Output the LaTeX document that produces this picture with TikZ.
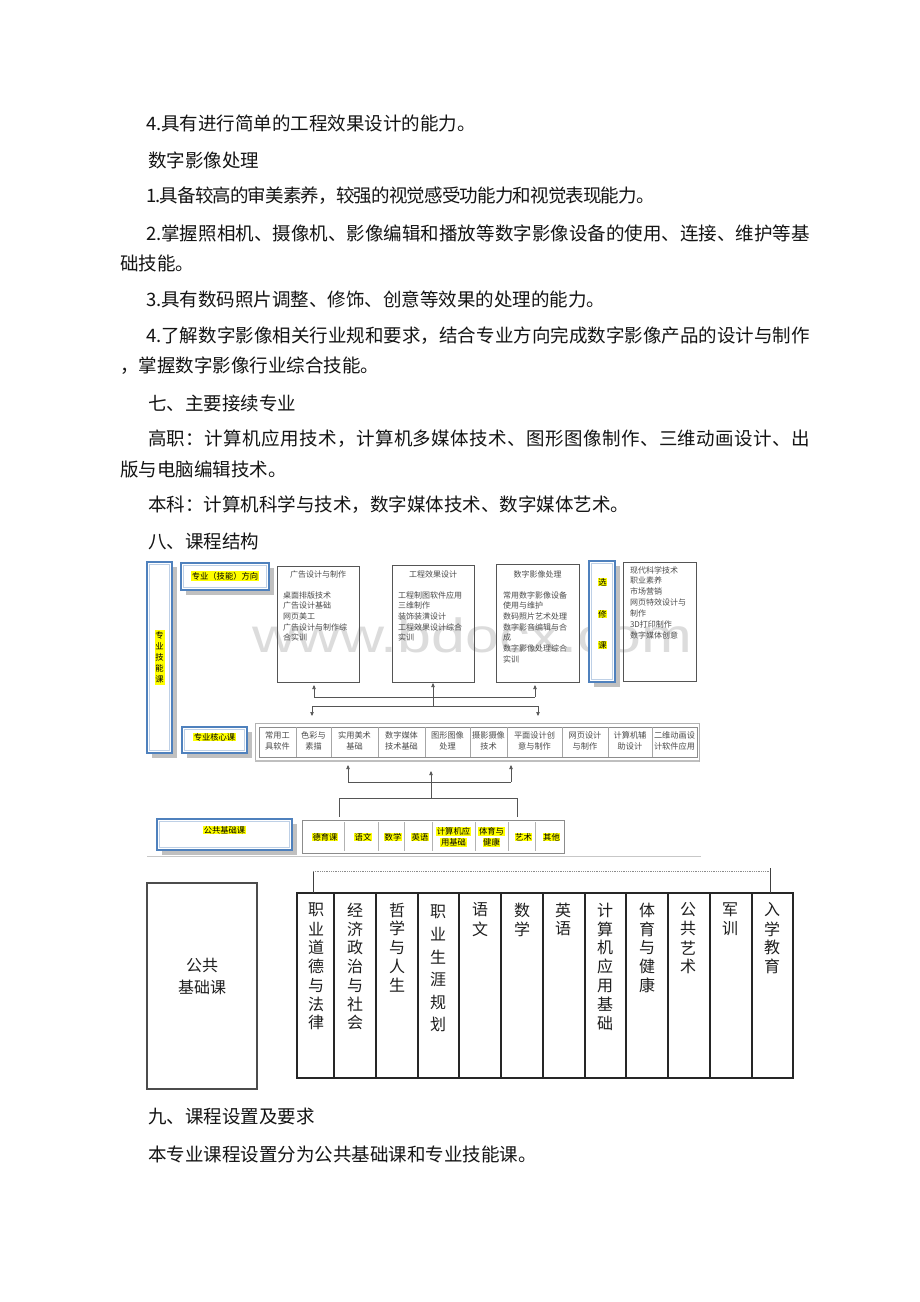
\documentclass[tikz,border=0pt]{standalone}
\usepackage{fontspec}
\usepackage{graphicx}
\setmainfont{Noto Sans CJK SC}
\newfontfamily\wmfont{Liberation Sans}
\usetikzlibrary{arrows.meta}
\definecolor{bluebox}{RGB}{79,129,189}
\definecolor{bluein}{RGB}{190,208,230}
\definecolor{shadowgray}{RGB}{192,192,192}
\definecolor{linegray}{RGB}{85,85,85}
\definecolor{txtgray}{RGB}{75,75,75}
\definecolor{wmgray}{RGB}{220,220,220}
\definecolor{hlyellow}{RGB}{255,255,0}
\newcommand{\fsz}[2]{\fontsize{#1}{#2}\selectfont}
\def\spreadit#1{#1\spreadnext}
\def\spreadnext#1{\ifx#1\relax\else\hfill#1\expandafter\spreadnext\fi}
\def\tightit#1{#1\tightnext}
\def\tightnext#1{\ifx#1\relax\else\kern-0.85pt#1\expandafter\tightnext\fi}
\newcommand{\bbox}[5]{%
  \fill[shadowgray] ({#2+5},{#3+5}) rectangle ({#4+5},{#5+5});
  \node[anchor=north west, fill=white, draw=bluebox, line width=2, minimum width={#4-#2}, minimum height={#5-#3}] (#1) at (#2,#3) {};
  \draw[bluein, line width=0.9] ({#2+2.2},{#3+2.2}) rectangle ({#4-2.2},{#5-2.2});
}
\newcommand{\rectnode}[6]{%
  \node[anchor=north west, #6, minimum width={#4-#2}, minimum height={#5-#3}] (#1) at (#2,#3) {};
}
\newcommand{\vcol}[5]{%
  \foreach \c [count=\i] in {#5} {\node[lowtxt] (#1-\i) at (#2,{#3+(\i-1)*#4}) {\c};}
}
\tikzset{
  body/.style={anchor=west, font=\fsz{18.5}{22}, text=black!92},
  dtext/.style={font=\fsz{8}{10}, text=txtgray},
  grayrect/.style={draw=linegray, line width=0.8},
  conn/.style={draw=linegray, line width=0.7},
  arr/.style={conn, -{Triangle[length=4pt,width=3.4pt]}},
  hlt/.style={fill=hlyellow, font=\fsz{8.3}{10}, text=black, inner sep=0.6pt},
  coretext/.style={font=\fsz{8.2}{11.5}, text=txtgray, align=center},
  lowtxt/.style={font=\fsz{16}{18}, text=black!88},
}
\begin{document}
\begin{tikzpicture}[x=1pt,y=-1pt, every node/.style={inner sep=0pt, outer sep=0pt}]
\useasboundingbox[fill=white] (0,0) rectangle (920,1302);

% ---------- body text ----------
\node[body] (t1) at (146,123) {4.具有进行简单的工程效果设计的能力。};
\node[body] (t2) at (148,160) {数字影像处理};
\node[body] (t3) at (146,196) {\tightit 1.具备较高的审美素养，较强的视觉感受功能力和视觉表现能力。\relax};
\node[body] (t4) at (146,233) {\makebox[664pt][s]{\spreadit 2.掌握照相机、摄像机、影像编辑和播放等数字影像设备的使用、连接、维护等基\relax}};
\node[body] (t5) at (120,263) {础技能。};
\node[body] (t6) at (146,299) {3.具有数码照片调整、修饰、创意等效果的处理的能力。};
\node[body] (t7) at (146,336) {\makebox[664pt][s]{\spreadit 4.了解数字影像相关行业规和要求，结合专业方向完成数字影像产品的设计与制作\relax}};
\node[body] (t8) at (120,366) {，掌握数字影像行业综合技能。};
\node[body] (t9) at (148,403) {七、主要接续专业};
\node[body] (t10) at (148,439) {\makebox[662pt][s]{\spreadit 高职：计算机应用技术，计算机多媒体技术、图形图像制作、三维动画设计、出\relax}};
\node[body] (t11) at (120,469) {版与电脑编辑技术。};
\node[body] (t12) at (148,505) {本科：计算机科学与技术，数字媒体技术、数字媒体艺术。};
\node[body] (t13) at (148,541) {八、课程结构};
\node[body] (t14) at (148,1117) {九、课程设置及要求};
\node[body] (t15) at (148,1154) {本专业课程设置分为公共基础课和专业技能课。};

% ---------- watermark ----------
\node[anchor=base west, text=wmgray, font=\wmfont\fsz{48}{48}] (wm) at (252,652) {\scalebox{1.27}[1]{www.bdocx.com}};

% ---------- blue boxes ----------
\bbox{skill}{147}{562}{172}{753}
\bbox{dir}{181}{563}{269}{590}
\bbox{elect}{589}{561}{615}{682}
\bbox{corelab}{182}{727}{247}{753}
\bbox{publab}{157}{819}{292}{850}

\foreach \c [count=\i] in {专,业,技,能,课}
  \node[hlt, minimum width=10, minimum height=11, inner sep=0pt] (sk\i) at (159.5,{635+(\i-1)*11}) {\c};
\node[hlt] (dirt) at (225,576) {专业（技能）方向};
\foreach \c/\yy [count=\i] in {选/582,修/614,课/645}
  \node[hlt] (el\i) at (602.5,\yy) {\c};
\node[hlt] (coret) at (214.5,737) {专业核心课};
\node[hlt] (pubt) at (224.5,830) {公共基础课};

% ---------- direction boxes ----------
\rectnode{d1}{277}{566}{359}{682}{grayrect}
\rectnode{d2}{392}{565}{474}{682}{grayrect}
\rectnode{d3}{496}{564}{579}{682}{grayrect}
\rectnode{d4}{623}{562}{696}{681}{grayrect}

\node[dtext] (d1t) at (318,574) {广告设计与制作};
\foreach \t [count=\i] in {桌面排版技术,广告设计基础,网页美工,广告设计与制作综,合实训}
  \node[dtext, anchor=west] (d1i\i) at (283,{595+(\i-1)*10.7}) {\t};
\node[dtext] (d2t) at (433,574) {工程效果设计};
\foreach \t [count=\i] in {工程制图软件应用,三维制作,装饰装潢设计,工程效果设计综合,实训}
  \node[dtext, anchor=west] (d2i\i) at (398,{595+(\i-1)*10.7}) {\t};
\node[dtext] (d3t) at (537.5,574) {数字影像处理};
\foreach \t [count=\i] in {常用数字影像设备,使用与维护,数码照片艺术处理,数字影音编辑与合,成,数字影像处理综合,实训}
  \node[dtext, anchor=west] (d3i\i) at (503,{595+(\i-1)*10.7}) {\t};
\foreach \t [count=\i] in {现代科学技术,职业素养,市场营销,网页特效设计与,制作,3D打印制作,数字媒体创意}
  \node[dtext, anchor=west] (d4i\i) at (630,{570+(\i-1)*10.85}) {\t};

% ---------- core table ----------
\rectnode{coreo}{255}{723}{699}{761}{draw=black!30, line width=0.9}
\draw[black!25, line width=2] (coreo.south west) -- (coreo.south east);
\rectnode{core}{259}{727}{697}{757}{draw=black!45, line width=0.6}
\foreach \x in {296,331,378,425,470,507,562,608,652}
  \draw[black!35, line width=0.6] (\x,727) -- (\x,757);
\foreach \xa/\xb/\ta/\tb [count=\i] in {259/296/常用工/具软件, 296/331/色彩与/素描, 331/378/实用美术/基础, 378/425/数字媒体/技术基础, 425/470/图形图像/处理, 470/507/摄影摄像/技术, 507/562/平面设计创/意与制作, 562/608/网页设计/与制作, 608/652/计算机辅/助设计, 652/697/二维动画设/计软件应用}
  \node[coretext] (cc\i) at ({(\xa+\xb)/2},741) {\ta\\\tb};

% ---------- public table ----------
\rectnode{pub}{302}{820}{564}{853}{draw=black!45, line width=0.8}
\foreach \x in {344,378,404,432,475,508,535}
  \draw[black!30, line width=0.6] (\x,822) -- (\x,851);
\foreach \xa/\xb/\t [count=\i] in {302/344/德育课, 344/378/语文, 378/404/数学, 404/432/英语, 508/535/艺术, 535/564/其他}
  \node[hlt] (pc\i) at ({(\xa+\xb)/2+2},837) {\t};
\node[hlt] (pc7a) at (453.5,831.7) {计算机应};
\node[hlt] (pc7b) at (453.5,842.7) {用基础};
\node[hlt] (pc8a) at (491.5,831.7) {体育与};
\node[hlt] (pc8b) at (491.5,842.7) {健康};

% ---------- connectors upper ----------
\coordinate (ua) at (314,697);
\coordinate (ub) at (535,697);
\coordinate (la) at (312,706);
\coordinate (lb) at (538,706);
\coordinate (lm) at (433,706);
\draw[conn] (ua) -- (ub);
\draw[arr] (ua) -- ([yshift=-3pt]d1.south -| ua);
\draw[arr] (ub) -- ([yshift=-3pt]d3.south -| ub);
\draw[conn] (la) -- (lb);
\draw[arr] (lm) -- ([yshift=-1pt]d2.south -| lm);
\draw[arr] (la) -- ([yshift=7pt]coreo.north -| la);
\draw[arr] (lb) -- ([yshift=7pt]coreo.north -| lb);

% ---------- connectors lower ----------
\coordinate (ma) at (348,782);
\coordinate (mb) at (511,782);
\coordinate (mm) at (431,798);
\coordinate (na) at (339,798);
\coordinate (nb) at (517,798);
\draw[conn] (ma) -- (mb);
\draw[arr] (ma) -- ([yshift=-4pt]coreo.south -| ma);
\draw[arr] (mb) -- ([yshift=-4pt]coreo.south -| mb);
\draw[arr] (mm) -- ([yshift=-10pt]coreo.south -| mm);
\draw[conn] (na) -- (nb);
\draw[conn] (na) -- ([yshift=3pt]pub.north -| na);
\draw[conn] (nb) -- ([yshift=3pt]pub.north -| nb);

% separator
\coordinate (sepa) at (147,856);
\coordinate (sepb) at (701,856);
\draw[black!22, line width=0.9] (sepa) -- (sepb);

% ---------- lower diagram ----------
\rectnode{big}{147}{883}{257}{1089}{draw=black!70, line width=1.2}
\node[lowtxt] (bigt1) at (202,965) {公共};
\node[lowtxt] (bigt2) at (202,987) {基础课};

\rectnode{tab}{297}{893}{793}{1078}{draw=black!85, line width=1.2}
\foreach \x in {334,376,418,459,501,543,585,626,668,710,752}
  \draw[black!85, line width=1.1] (\x,893) -- (\x,1078);

\coordinate (bl) at (313,871);
\coordinate (br) at (770,871);
\draw[black!75, line width=0.9] (tab.north -| bl) -- (bl);
\draw[black!45, line width=0.9, dash pattern=on 1pt off 0.8pt] (bl) -- (br);
\draw[black!75, line width=0.9] ([yshift=3pt]br) -- (tab.north -| br);

\vcol{k1}{316}{910}{18.8}{职,业,道,德,与,法,律}
\vcol{k2}{355}{910}{18.8}{经,济,政,治,与,社,会}
\vcol{k3}{397}{910}{18.8}{哲,学,与,人,生}
\vcol{k4}{438}{912}{22.5}{职,业,生,涯,规,划}
\vcol{k5}{480}{910}{19}{语,文}
\vcol{k6}{522}{910}{19}{数,学}
\vcol{k7}{563}{910}{19}{英,语}
\vcol{k8}{605}{910}{18.9}{计,算,机,应,用,基,础}
\vcol{k9}{647}{910}{18.9}{体,育,与,健,康}
\vcol{k10}{688}{910}{18.9}{公,共,艺,术}
\vcol{k11}{730}{910}{19}{军,训}
\vcol{k12}{772}{910}{18.9}{入,学,教,育}
\end{tikzpicture}
\end{document}
